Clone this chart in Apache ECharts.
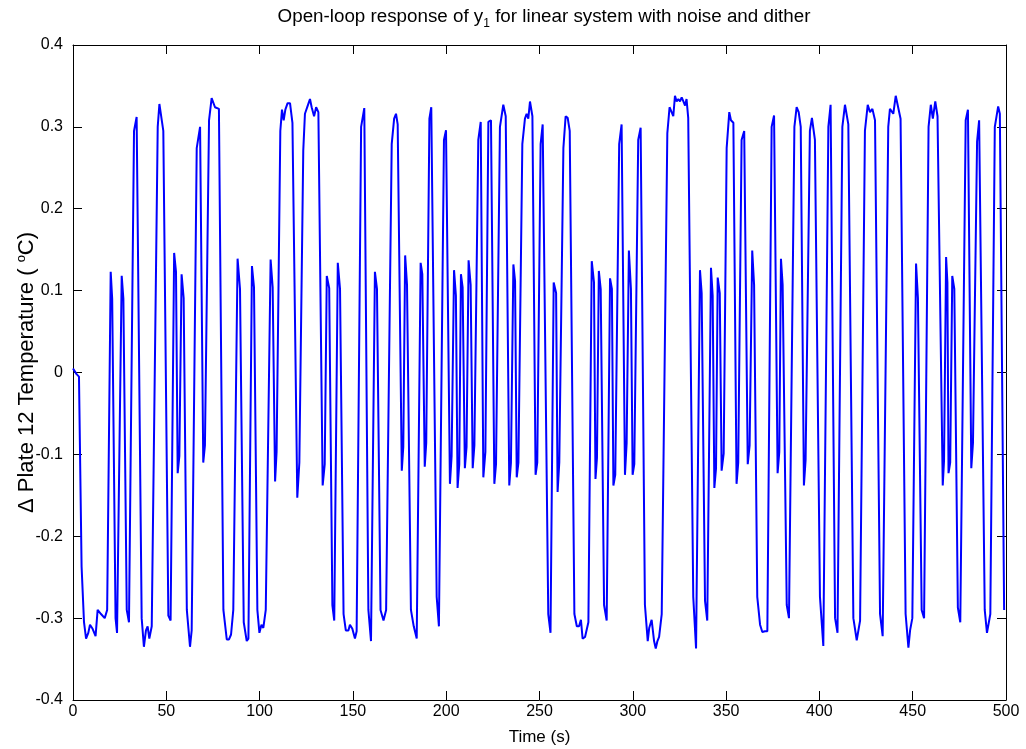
<!DOCTYPE html>
<html>
<head>
<meta charset="utf-8">
<script src="https://cdn.jsdelivr.net/npm/echarts@6/dist/echarts.min.js"></script>
<style>html,body{margin:0;padding:0;background:#fff}#c{width:1026px;height:749px}</style>
</head>
<body>
<div id="c"></div>
<script>
const times = [0,1.9,3.2,4.6,5.9,7.0,8.2,9.1,10.5,11.4,12.1,13.2,15,17,18.3,20.2,21,22.8,23.6,26.1,27.0,28.8,30.0,32.7,34.1,36.8,38.0,39.1,40.0,40.9,42.2,45.4,46.3,48.4,51.1,52.3,54.2,55.2,56.1,57.0,58.2,59.3,61.0,62.7,63.6,66.3,68.1,69.8,70.7,72.9,74.3,75.2,76.1,77.0,78.2,80.6,82.4,83.6,84.7,85.9,88.2,89.5,91.5,93.1,94.0,95.9,97.0,98.8,99.9,101.0,102.0,103.3,105.9,107.0,108.3,109.1,111.1,112.0,112.9,113.8,115.0,116.3,117.6,120.2,121.3,123.4,124.3,125.8,127.0,127.9,129.2,130.3,131.5,133.8,134.9,136.0,137.3,139.0,140.0,141.9,143.1,145.0,146.2,147.6,148.4,149.7,151.1,152.0,154.4,156.1,158.3,159.7,161.8,162.9,164.8,166.4,167.8,170.8,172.1,173.1,174.0,176.2,177.0,178.0,179.0,181.1,182.6,184.2,186.3,187.2,188.5,189.3,191.0,192.0,194.9,196.1,198.8,199.9,202.0,202.9,204.2,205.2,206.1,207.0,207.9,208.8,210.0,210.9,212.0,213.1,214.2,215.1,217.2,218.5,219.9,221.0,222.6,224.0,225.8,226.7,228.8,230.6,231.9,233.8,234.7,236.0,236.9,237.8,238.7,240.8,242.2,243.1,244.0,244.9,246.2,247.9,248.8,250.6,251.7,254.7,255.9,257.6,258.9,259.7,260.6,262.8,264.0,265.1,266.2,268.7,270.0,271.2,272.2,273.1,274.4,276.2,278.0,279.2,280.0,280.8,281.8,282.8,284.6,286.0,287.8,288.8,289.6,290.6,292.7,294.0,295.8,296.7,297.9,299.0,299.9,300.8,302.9,304.2,306.5,308.0,308.8,310.1,311.4,312.3,313.2,314.1,315.5,318.5,319.7,320.8,321.7,322.6,323.5,324.4,325.3,326.2,327.1,328.0,328.8,329.7,332.4,333.9,336.0,336.9,338.7,339.9,341.9,342.8,343.7,344.6,345.5,346.6,347.6,348.7,350.3,351.7,352.6,353.9,355.6,356.5,358.3,359.7,361.6,362.6,364.0,365.0,366.7,368.2,369.4,370.8,372.1,374.4,375.7,377.6,378.5,379.4,380.3,382.5,383.7,386.6,387.8,388.9,390.0,391.7,392.6,394.9,396.0,397.6,400.3,402.1,404.8,406.0,408.4,409.7,412.3,413.7,415.5,418.2,420.0,421.8,424.4,425.9,427.1,428.4,429.8,432.5,433.9,436.9,437.8,439.6,440.9,441.9,443.5,446.2,447.7,448.6,449.8,451.8,452.8,454.8,456.1,458.5,459.7,460.8,462.1,463.3,466.1,466.8,467.9,468.6,469.2,470.1,471.2,472.3,474.2,475.5,478.4,479.6,481.4,482.3,484.5,485.6,488.6,489.8,491.6,494.0,495.8,496.7,499.0];
const values = [0.005,-0.002,-0.005,-0.237,-0.305,-0.325,-0.318,-0.308,-0.313,-0.313,-0.322,-0.29,-0.295,-0.30,-0.29,0.123,0.09,-0.30,-0.318,0.118,0.09,-0.29,-0.305,0.295,0.312,-0.30,-0.335,-0.315,-0.31,-0.325,-0.31,0.30,0.328,0.295,-0.297,-0.303,0.146,0.123,-0.123,-0.102,0.12,0.091,-0.29,-0.335,-0.315,0.274,0.30,-0.11,-0.089,0.308,0.335,0.334,0.324,0.326,0.322,-0.29,-0.326,-0.326,-0.32,-0.29,0.139,0.102,-0.305,-0.328,-0.325,0.13,0.104,-0.29,-0.318,-0.308,-0.312,-0.29,0.138,0.104,-0.133,-0.097,0.295,0.321,0.308,0.321,0.329,0.329,0.305,-0.153,-0.11,0.271,0.316,0.326,0.334,0.324,0.313,0.324,0.318,-0.138,-0.112,0.118,0.103,-0.284,-0.303,0.134,0.102,-0.295,-0.315,-0.315,-0.308,-0.313,-0.325,-0.316,0.30,0.323,-0.29,-0.328,0.123,0.102,-0.29,-0.303,-0.29,0.279,0.31,0.316,0.303,-0.12,-0.091,0.143,0.107,-0.29,-0.31,-0.325,0.134,0.12,-0.115,-0.086,0.31,0.324,-0.274,-0.31,0.284,0.296,-0.136,-0.102,0.125,0.094,-0.141,-0.112,0.12,0.104,-0.117,-0.091,0.137,0.107,-0.117,-0.089,0.284,0.306,-0.128,-0.097,0.306,0.308,-0.136,-0.112,0.30,0.327,0.313,-0.138,-0.11,0.132,0.112,-0.128,-0.11,0.279,0.31,0.316,0.31,0.331,0.313,-0.125,-0.11,0.279,0.303,-0.295,-0.318,0.11,0.097,-0.146,-0.11,0.274,0.313,0.311,0.295,-0.295,-0.31,-0.31,-0.302,-0.325,-0.323,-0.305,0.136,0.11,-0.13,-0.104,0.124,0.102,-0.284,-0.303,0.115,0.102,-0.138,-0.125,0.279,0.303,-0.125,-0.086,0.149,0.102,-0.125,-0.112,0.284,0.299,-0.284,-0.328,-0.312,-0.302,-0.328,-0.337,-0.328,-0.323,-0.295,0.292,0.324,0.318,0.313,0.338,0.331,0.334,0.331,0.336,0.331,0.326,0.334,0.311,-0.274,-0.337,0.125,0.097,-0.279,-0.303,0.128,0.094,-0.141,-0.117,0.116,0.097,-0.12,-0.099,0.274,0.318,0.308,0.305,-0.136,-0.11,0.284,0.295,-0.112,-0.089,0.149,0.107,-0.274,-0.308,-0.317,-0.316,-0.316,0.30,0.314,-0.123,-0.097,0.139,0.107,-0.284,-0.30,0.30,0.324,0.318,0.30,-0.138,-0.107,0.295,0.311,0.284,-0.274,-0.334,0.30,0.327,-0.30,-0.318,0.30,0.327,0.303,-0.30,-0.327,-0.303,0.295,0.327,0.318,0.322,0.308,-0.295,-0.322,0.30,0.322,0.316,0.338,0.337,0.31,-0.295,-0.336,-0.315,-0.30,0.133,0.091,-0.29,-0.30,0.30,0.327,0.31,0.331,0.313,-0.138,-0.107,0.141,0.11,-0.123,-0.11,0.118,0.102,-0.287,-0.305,0.308,0.321,-0.117,-0.086,0.282,0.308,-0.29,-0.318,-0.295,0.30,0.325,0.316,-0.29];
const xTickLabels = ['0','50','100','150','200','250','300','350','400','450','500'];
const yTickLabels = ['-0.4','-0.3','-0.2','-0.1','0','0.1','0.2','0.3','0.4'];

const seriesData = times.map((t, i) => [t, values[i]]);
const FONT = 'Liberation Sans';
function axisBase() {
  return {
    type: 'value',
    axisLine: { show: true, onZero: false, lineStyle: { color: '#000', width: 1 } },
    axisTick: { show: true, inside: true, length: 9, lineStyle: { color: '#000', width: 1 } },
    splitLine: { show: false }
  };
}
const chart = echarts.init(document.getElementById('c'), null, { renderer: 'canvas' });
chart.setOption({
  animation: false,
  backgroundColor: '#fff',
  title: {
    text: 'Open-loop response of y{sub|1} for linear system with noise and dither',
    left: 539, top: 1, textAlign: 'center',
    textStyle: {
      fontFamily: FONT, fontSize: 18.8, fontWeight: 'normal', color: '#000', lineHeight: 22,
      rich: { sub: { fontFamily: FONT, fontSize: 12, color: '#000', lineHeight: 12, padding: [14, 0, 0, 0] } }
    }
  },
  grid: { left: 73, right: 20, top: 45, bottom: 49, containLabel: false, outerBoundsMode: 'none' },
  xAxis: [
    Object.assign(axisBase(), {
      min: 0, max: 500, interval: 50, position: 'bottom',
      axisLabel: { color: '#000', fontFamily: FONT, fontSize: 16, margin: 4,
        formatter: v => xTickLabels[Math.round(v / 50)] },
      name: 'Time (s)', nameLocation: 'middle', nameGap: 29, nameMoveOverlap: false,
      nameTextStyle: { color: '#000', fontFamily: FONT, fontSize: 17 }
    }),
    Object.assign(axisBase(), {
      min: 0, max: 500, interval: 50, position: 'top', axisLabel: { show: false }
    })
  ],
  yAxis: [
    Object.assign(axisBase(), {
      min: -0.4, max: 0.4, interval: 0.1, position: 'left',
      axisLabel: { color: '#000', fontFamily: FONT, fontSize: 16, margin: 10,
        formatter: v => yTickLabels[Math.round((v + 0.4) / 0.1)] },
      name: '\u0394 Plate 12 Temperature ( {sup|o}C)', nameLocation: 'middle', nameGap: 34, nameRotate: 90,
      nameMoveOverlap: false,
      nameTextStyle: { color: '#000', fontFamily: FONT, fontSize: 22, lineHeight: 24,
        rich: { sup: { fontFamily: FONT, fontSize: 13, color: '#000', lineHeight: 12, padding: [0, 0, 12, 0] } } }
    }),
    Object.assign(axisBase(), {
      min: -0.4, max: 0.4, interval: 0.1, position: 'right', axisLabel: { show: false }
    })
  ],
  series: [{
    type: 'line', data: seriesData, xAxisIndex: 0, yAxisIndex: 0,
    showSymbol: false, symbol: 'none',
    lineStyle: { color: '#0000ff', width: 2 }, silent: true
  }]
});
</script>
</body>
</html>
